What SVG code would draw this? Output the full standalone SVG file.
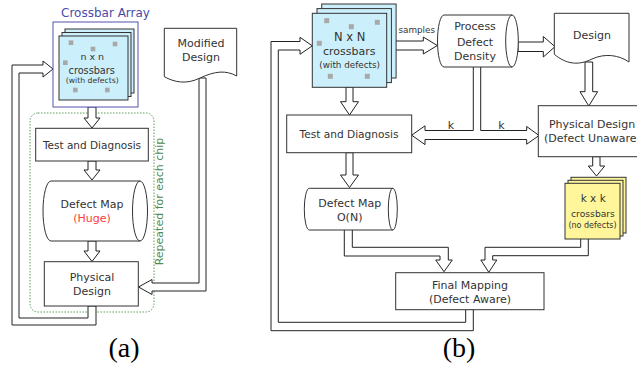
<svg xmlns="http://www.w3.org/2000/svg" width="637" height="367" viewBox="0 0 637 367">
<style>
.t{font-family:"DejaVu Sans",sans-serif;font-size:11px;fill:#333;text-anchor:middle}
.box{fill:#fff;stroke:#333;stroke-width:1}
.sheet{fill:#ccf0fb;stroke:#333;stroke-width:1}
.ysheet{fill:#fff69c;stroke:#333;stroke-width:1}
.dot{fill:#a8a8a8}
.fat{fill:#fff;stroke:#222;stroke-width:1;stroke-linejoin:miter}
.lbl{font-family:"Liberation Serif",serif;font-size:28px;fill:#000;text-anchor:middle}
</style>
<rect width="637" height="367" fill="#fff"/>

<!-- repeated region (a) -->
<g id="repeat-region">
<rect x="30" y="113" width="124" height="199" rx="8" fill="none" stroke="#5d9c5d" stroke-width="1" stroke-dasharray="1.5 1.5"/>
<text class="t" transform="translate(163,201.5) rotate(-90)" style="fill:#4f8a4f">Repeated for each chip</text>
</g>

<g id="connectors">
<!-- (a) -->
<polygon class="fat" points="88,107 88,118 84,118 92,128 100,118 96,118 96,107"/>
<polygon class="fat" points="88,161 88,170 84,170 92,180 100,170 96,170 96,161"/>
<polygon class="fat" points="88,241 88,251 84,251 92,261.5 100,251 96,251 96,241"/>
<polygon class="fat" points="96,306 96,325 12,325 12,65 43,65 43,61 53,69 43,77 43,73 19,73 19,318 88,318 88,306"/>
<polygon class="fat" points="199,78 199,283 152,283 152,279.5 138.5,287 152,294.5 152,291 206,291 206,78"/>
<!-- (b) -->
<polygon class="fat" points="473.3,309 473.3,330.7 271,330.7 271,41.5 300,41.5 300,37.3 312.3,45.8 300,54.3 300,50 278.3,50 278.3,322.3 465.7,322.3 465.7,309"/>
<polygon class="fat" points="346,87 346,101.7 340.5,101.7 349.5,115 358.5,101.7 353,101.7 353,87"/>
<polygon class="fat" points="346,152.7 346,175 340.5,175 349.5,187.5 358.5,175 353,175 353,152.7"/>
<polygon class="fat" points="390,41 423.3,41 423.3,37 437.3,45.5 423.3,54 423.3,50 390,50"/>
<polygon class="fat" points="518,42 543.3,42 543.3,36.5 555,46.7 543.3,57 543.3,51.5 518,51.5"/>
<polygon class="fat" points="585,62 585,91.7 580,91.7 588.8,106 597.6,91.7 592.7,91.7 592.7,62"/>
<polygon class="fat" points="592.7,156.7 592.7,166 588.3,166 596.5,176 604.7,166 600,166 600,156.7"/>
<polygon class="fat" points="411.7,135.2 425,125.8 425,130.5 473.3,130.5 473.3,66 480.7,66 480.7,130.5 526.7,130.5 526.7,126.5 539,135.5 526.7,144.2 526.7,139.5 425,139.5 425,144.6"/>
<polygon class="fat" points="344.3,229 344.3,256 440,256 440,260 435.7,260 444,271.7 452.3,260 448.3,260 448.3,247.3 352.3,247.3 352.3,229"/>
<polygon class="fat" points="580.7,238 580.7,247.3 485,247.3 485,260 480.8,260 488.8,272.3 496.8,260 492.7,260 492.7,255.7 588.3,255.7 588.3,238"/>
<text class="t" x="416.7" y="32.5" style="font-size:8.8px">samples</text>
<text class="t" x="451" y="129">k</text>
<text class="t" x="501.5" y="129">k</text>
</g>

<!-- (a) nodes -->
<g id="crossbar-array">
<rect x="53" y="22" width="85" height="85" fill="#fff" stroke="#5353b0" stroke-width="1"/>
<text class="t" x="105.5" y="17" style="font-size:12px;fill:#4a4aa8">Crossbar Array</text>
<rect class="sheet" x="65" y="29" width="69" height="64"/>
<rect class="sheet" x="62" y="32.5" width="69" height="64"/>
<rect class="sheet" x="59" y="36" width="69" height="64"/>
<rect class="dot" x="68.7" y="40.4" width="4.6" height="4.6"/>
<rect class="dot" x="90.7" y="46.7" width="4.6" height="4.6"/>
<rect class="dot" x="112.7" y="41.7" width="4.6" height="4.6"/>
<rect class="dot" x="63" y="60.4" width="4.6" height="4.6"/>
<rect class="dot" x="73" y="87.7" width="4.6" height="4.6"/>
<rect class="dot" x="105" y="87.7" width="4.6" height="4.6"/>
<text class="t" x="92.3" y="60" style="font-size:9.5px">n x n</text>
<text class="t" x="91.7" y="73.5" style="font-size:9.7px">crossbars</text>
<text class="t" x="92.3" y="83" style="font-size:7.7px">(with defects)</text>
</g>
<g id="test-diagnosis-a">
<rect class="box" x="35.7" y="128.3" width="112.6" height="32.7"/>
<text class="t" x="92" y="149" style="font-size:10.5px">Test and Diagnosis</text>
</g>
<g id="defect-map-a">
<path class="box" d="M51,181 L140,181 A7.5,30 0 0 1 140,241 L51,241 A8,30 0 0 1 51,181 Z"/>
<path d="M140,181 A7.5,30 0 0 0 140,241" fill="none" stroke="#333"/>
<text class="t" x="92" y="207.5">Defect Map</text>
<text class="t" x="92" y="221.5" style="fill:#ff3b3b">(Huge)</text>
</g>
<g id="physical-design-a">
<rect class="box" x="44.3" y="261.7" width="94" height="44.3"/>
<text class="t" x="92" y="280.5">Physical</text>
<text class="t" x="92" y="294.5">Design</text>
</g>
<g id="modified-design">
<path class="box" d="M164.3,28.3 L236.7,28.3 L236.7,76 C226,70 215,71 200,78 C186,85 174,82 164.3,76.7 Z"/>
<text class="t" x="201" y="47">Modified</text>
<text class="t" x="201" y="61">Design</text>
</g>
<text class="lbl" x="124" y="357">(a)</text>

<!-- (b) nodes -->
<g id="crossbars-NxN">
<rect class="sheet" x="321.7" y="4" width="74.4" height="74"/>
<rect class="sheet" x="317" y="8.6" width="74.4" height="74"/>
<rect class="sheet" x="312.3" y="13.3" width="74.4" height="74"/>
<rect class="dot" x="324.2" y="18.2" width="5" height="5"/>
<rect class="dot" x="348.8" y="24.2" width="5" height="5"/>
<rect class="dot" x="374.8" y="19.8" width="5" height="5"/>
<rect class="dot" x="316.8" y="40.8" width="5" height="5"/>
<rect class="dot" x="327.8" y="73.8" width="5" height="5"/>
<rect class="dot" x="364.8" y="73.8" width="5" height="5"/>
<text class="t" x="349.7" y="40.5" style="font-size:11.5px">N x N</text>
<text class="t" x="349.2" y="55">crossbars</text>
<text class="t" x="349.7" y="68" style="font-size:8.8px">(with defects)</text>
</g>
<g id="process-defect-density">
<path class="box" d="M444,15 L512,15 A6.3,26 0 0 1 512,67 L444,67 A6.5,26 0 0 1 444,15 Z"/>
<path d="M512,15 A6.3,26 0 0 0 512,67" fill="none" stroke="#333"/>
<text class="t" x="475" y="30">Process</text>
<text class="t" x="475" y="45.5">Defect</text>
<text class="t" x="475" y="60">Density</text>
</g>
<g id="design-b">
<path class="box" d="M554.3,13.3 L629,13.3 L629,62 C619,55 605,53 592,59 C578,66 566,64 554.3,54.3 Z"/>
<text class="t" x="592" y="39">Design</text>
</g>
<g id="test-diagnosis-b">
<rect class="box" x="286.7" y="115" width="125" height="37.7"/>
<text class="t" x="349" y="138" style="font-size:10.6px">Test and Diagnosis</text>
</g>
<g id="physical-design-b">
<rect class="box" x="538.3" y="105.7" width="110" height="51"/>
<text class="t" x="592" y="128">Physical Design</text>
<text class="t" x="592.5" y="141.5">(Defect Unaware)</text>
</g>
<g id="defect-map-b">
<path class="box" d="M309.3,188.3 L392.8,188.3 A4.5,20.85 0 0 1 392.8,230 L309.3,230 A5,20.85 0 0 1 309.3,188.3 Z"/>
<path d="M392.8,188.3 A4.5,20.85 0 0 0 392.8,230" fill="none" stroke="#333"/>
<text class="t" x="349.7" y="206.5">Defect Map</text>
<text class="t" x="349.7" y="220.5">O(N)</text>
</g>
<g id="crossbars-kxk">
<rect class="ysheet" x="571" y="177.3" width="55" height="55.7"/>
<rect class="ysheet" x="568" y="180.3" width="55" height="55.7"/>
<rect class="ysheet" x="565" y="183.3" width="55" height="55.7"/>
<text class="t" x="593.2" y="201.5" style="font-size:10.5px">k x k</text>
<text class="t" x="593" y="217.3" style="font-size:9.2px">crossbars</text>
<text class="t" x="592.5" y="228" style="font-size:8px">(no defects)</text>
</g>
<g id="final-mapping">
<rect class="box" x="395.7" y="272.7" width="148.3" height="37"/>
<text class="t" x="470" y="289">Final Mapping</text>
<text class="t" x="470" y="302.5">(Defect Aware)</text>
</g>
<text class="lbl" x="459" y="357">(b)</text>
</svg>
